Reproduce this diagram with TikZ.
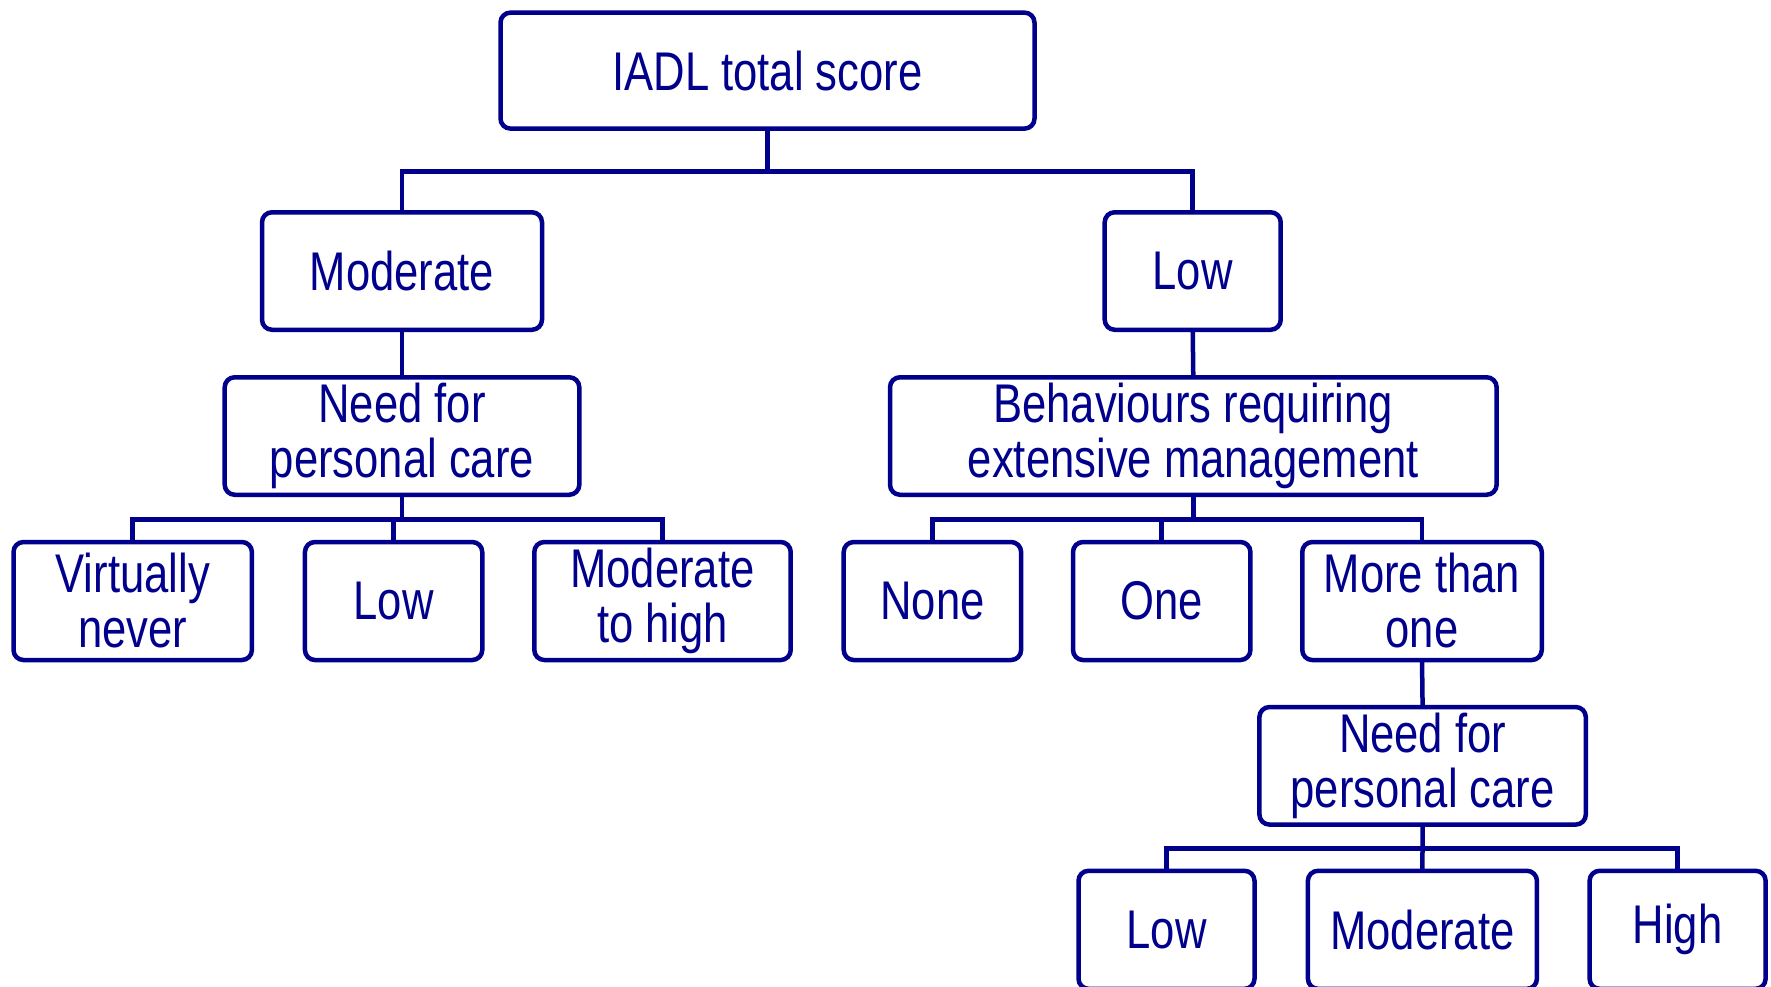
\documentclass[tikz,border=0pt]{standalone}
\usepackage{fontspec}
\setmainfont{Liberation Sans}[FakeStretch=0.8]
\definecolor{navy}{RGB}{0,0,140}
\tikzset{
  box/.style={draw=navy, line width=4.5pt, rounded corners=10pt, inner sep=0pt, outer sep=0pt,
    text=navy, align=center, font=\fontsize{54.5}{55}\selectfont},
  link/.style={draw=navy, line width=4.5pt},
}
\begin{document}
\begin{tikzpicture}[x=1pt, y=-1pt]
\useasboundingbox (0,0) rectangle (1771,986);
\clip (0,0) rectangle (1771,986);

% root and first level
\node[box, minimum width=534pt, minimum height=116pt] (root) at (767.5,70.6) {IADL total score};
\node[box, minimum width=280pt, minimum height=117.5pt] (mod) at (402,271) {Moderate};
\node[box, minimum width=176pt, minimum height=117.5pt] (low) at (1192.7,271) {Low};

% second level
\node[box, minimum width=354.6pt, minimum height=117.5pt] (needA) at (402,436) {Need for\\personal care};
\node[box, minimum width=606.6pt, minimum height=117.5pt] (behav) at (1193.3,436) {Behaviours requiring\\extensive management};

% third level
\node[box, minimum width=238.4pt, minimum height=118pt] (never) at (132.7,601) {Virtually\\never};
\node[box, minimum width=177.3pt, minimum height=118pt] (lowA) at (393.6,601) {Low};
\node[box, minimum width=256.4pt, minimum height=118pt] (modhigh) at (662.5,601) {Moderate\\to high};
\node[box, minimum width=177.4pt, minimum height=118pt] (none) at (932.4,601) {None};
\node[box, minimum width=177.4pt, minimum height=118pt] (one) at (1161.7,601) {One};
\node[box, minimum width=239.5pt, minimum height=118pt] (more) at (1422,601) {More than\\one};

% fourth and fifth level
\node[box, minimum width=326.4pt, minimum height=117.5pt] (needB) at (1422.6,765.8) {Need for\\personal care};
\node[box, minimum width=176pt, minimum height=118pt] (lowB) at (1166.5,929.8) {Low};
\node[box, minimum width=229pt, minimum height=118pt] (modB) at (1422.4,929.8) {Moderate};
\node[box, minimum width=176pt, minimum height=118pt] (highB) at (1677.6,929.8) {High};

% horizontal bar levels
\coordinate (b1) at (0,171.7);
\coordinate (b2) at (0,519.6);
\coordinate (b3) at (0,848.3);

% root branches
\draw[link] (root.south) -- (root.south |- b1);
\draw[link] (mod.north) |- (low.north |- b1) -- (low.north);

% single links
\draw[link] (mod.south) -- (needA.north);
\draw[link] (low.south) -- (behav.north);
\draw[link] (more.south) -- (needB.north);

% need for personal care (left)
\draw[link] (needA.south) -- (needA.south |- b2);
\draw[link] (never.north) |- (modhigh.north |- b2) -- (modhigh.north);
\draw[link] (lowA.north) -- (lowA.north |- b2);

% behaviours
\draw[link] (behav.south) -- (behav.south |- b2);
\draw[link] (none.north) |- (more.north |- b2) -- (more.north);
\draw[link] (one.north) -- (one.north |- b2);

% need for personal care (right)
\draw[link] (needB.south) -- (modB.north);
\draw[link] (lowB.north) |- (highB.north |- b3) -- (highB.north);
\end{tikzpicture}
\end{document}
